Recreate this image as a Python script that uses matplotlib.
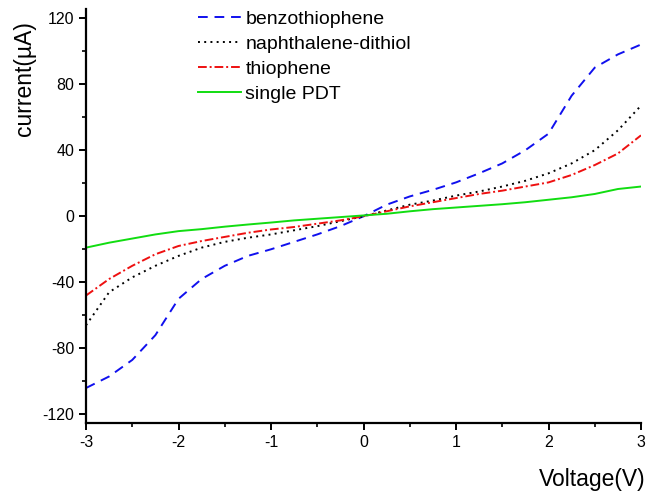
#!/usr/bin/env python3

import matplotlib
matplotlib.use('Agg')
import matplotlib.pyplot as plt
import matplotlib.ticker as ticker

plt.rcParams['font.family'] = ['Liberation Sans', 'DejaVu Sans']
plt.rcParams['axes.unicode_minus'] = False

voltage = [-3, -2.75, -2.5, -2.25, -2, -1.75, -1.5, -1.25, -1, -0.75, -0.5, -0.25,
           0, 0.25, 0.5, 0.75, 1, 1.25, 1.5, 1.75, 2, 2.25, 2.5, 2.75, 3]

benzothiophene = [-104, -97, -87, -72, -50, -38, -30, -24, -20, -15.5, -11, -6,
                  0, 7, 12, 16, 20.5, 26, 32, 40, 50, 73, 90, 98, 104]
naphthalene = [-66, -46, -37, -30, -24, -19, -15.5, -13, -11, -8.5, -6, -3,
               0, 3.5, 7, 9.5, 12.5, 15, 18, 21.5, 26, 32, 40, 52, 67]
thiophene = [-48, -38, -30, -23, -18, -15, -12.5, -10, -8, -6.5, -4.5, -2.5,
             0, 3, 6, 8.5, 11, 13.5, 15.5, 18, 20.5, 25, 31, 38, 49]
single_pdt = [-19, -16, -13.5, -11, -9, -7.8, -6.3, -5, -3.8, -2.5, -1.5, -0.5,
              0.5, 1.5, 3, 4.3, 5.3, 6.3, 7.3, 8.5, 10, 11.5, 13.5, 16.5, 18]

fig = plt.figure(figsize=(6.52, 4.96), dpi=100)
ax = fig.add_axes([86/652, 1 - 422.7/496, 555/652, 413.7/496])

ax.plot(voltage, benzothiophene, color='#1010ee', lw=1.4, dashes=(5, 3.5),
        label='benzothiophene')
ax.plot(voltage, naphthalene, color='black', lw=1.4, dashes=(1, 2.2),
        label='naphthalene-dithiol')
ax.plot(voltage, thiophene, color='#ee1010', lw=1.4, dashes=(4.5, 1.5, 1, 1.5),
        label='thiophene')
ax.plot(voltage, single_pdt, color='#11dd11', lw=1.4, label='single PDT')

ax.set_xlim(-3, 3)
ax.set_ylim(-125, 125.5)
ax.xaxis.set_major_locator(ticker.MultipleLocator(1))
ax.xaxis.set_minor_locator(ticker.MultipleLocator(0.5))
ax.yaxis.set_major_locator(ticker.MultipleLocator(40))
ax.yaxis.set_minor_locator(ticker.MultipleLocator(20))
ax.set_yticks([-120, -80, -40, 0, 40, 80, 120])

for side in ['top', 'right']:
    ax.spines[side].set_visible(False)
for side in ['left', 'bottom']:
    ax.spines[side].set_linewidth(1.6)
ax.tick_params(which='major', direction='out', length=5, width=1.4, labelsize=11.5)
ax.tick_params(which='minor', direction='out', length=3, width=1.2)

ax.set_ylabel('current(\u00b5A)', fontsize=16.5)
ax.yaxis.set_label_coords(-0.09, 0.833)
ax.set_xlabel('Voltage(V)', fontsize=16.5)
ax.xaxis.set_label_coords(0.912, -0.11)

ax.legend(loc='upper left', bbox_to_anchor=(0.17, 1.039), frameon=False,
          fontsize=14, handlelength=2.2, handletextpad=0.25, labelspacing=0.38)

fig.savefig('out.png', dpi=100)
